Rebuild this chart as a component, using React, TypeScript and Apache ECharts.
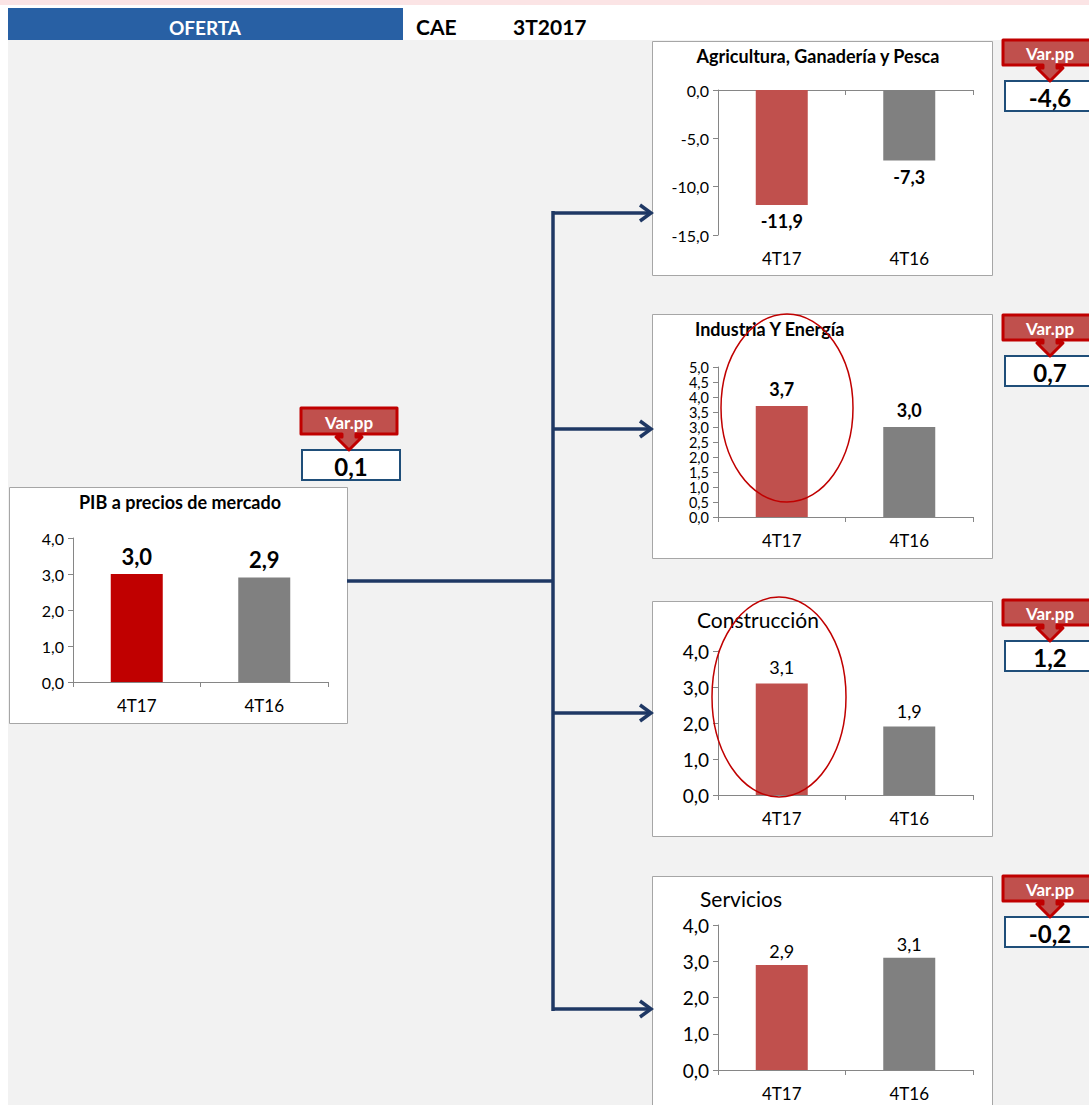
import React, { useEffect, useRef } from 'react';
import * as echarts from 'echarts';

const categories = ['4T17', '4T16'];
const pibValues = [3.0, 2.9];
const agriValues = [-11.9, -7.3];
const indValues = [3.7, 3.0];
const consValues = [3.1, 1.9];
const servValues = [2.9, 3.1];
const varPP = [0.1, -4.6, 0.7, 1.2, -0.2];
const titles = ['PIB a precios de mercado', 'Agricultura, Ganadería y Pesca', 'Industria Y Energía', 'Construcción', 'Servicios'];
const headerTexts = ['OFERTA', 'CAE', '3T2017'];

const FONT = 'Lato, "Open Sans", sans-serif';
const fmt = (v: number) => v.toFixed(1).replace('.', ',');
const AXIS = '#868686';
const RED = '#c0504d';
const GREY = '#808080';
const NAVY = '#1f3864';

const panels = [
  { values: pibValues, colors: ['#c00000', GREY], min: 0, max: 4, interval: 1, grid: { left: 73, top: 538, width: 255, height: 144 }, yFont: 16, yLH: 16, vFont: 22, vBold: true, dist: 7, neg: false },
  { values: agriValues, colors: [RED, GREY], min: -15, max: 0, interval: 5, grid: { left: 718, top: 90, width: 255, height: 145 }, yFont: 16, yLH: 16, vFont: 18, vBold: true, dist: 7, neg: true },
  { values: indValues, colors: [RED, GREY], min: 0, max: 5, interval: 0.5, grid: { left: 718, top: 367, width: 255, height: 150 }, yFont: 14.5, yLH: 13, vFont: 18, vBold: true, dist: 8, neg: false },
  { values: consValues, colors: [RED, GREY], min: 0, max: 4, interval: 1, grid: { left: 718, top: 651, width: 255, height: 144 }, yFont: 19, yLH: 19, vFont: 18, vBold: false, dist: 7, neg: false },
  { values: servValues, colors: [RED, GREY], min: 0, max: 4, interval: 1, grid: { left: 718, top: 925, width: 255, height: 145 }, yFont: 19, yLH: 19, vFont: 18, vBold: false, dist: 5, neg: false },
];

function buildOption() {
  const grid: any[] = [];
  const xAxis: any[] = [];
  const yAxis: any[] = [];
  const series: any[] = [];
  panels.forEach((p, i) => {
    grid.push({ ...p.grid });
    const labelAxisIdx = xAxis.length;
    xAxis.push({
      type: 'category', gridIndex: i, data: categories, position: 'bottom',
      axisLine: { show: !p.neg, onZero: false, lineStyle: { color: AXIS, width: 1 } },
      axisTick: { show: !p.neg, length: 5, lineStyle: { color: AXIS } },
      axisLabel: { fontSize: 17, color: '#000', margin: 15, fontFamily: FONT },
      splitLine: { show: false },
    });
    let seriesAxis = labelAxisIdx;
    if (p.neg) {
      seriesAxis = xAxis.length;
      xAxis.push({
        type: 'category', gridIndex: i, data: categories, position: 'top',
        axisLine: { show: true, onZero: false, lineStyle: { color: AXIS, width: 1 } },
        axisTick: { show: true, inside: true, length: 5, lineStyle: { color: AXIS } },
        axisLabel: { show: false },
        splitLine: { show: false },
      });
    }
    yAxis.push({
      type: 'value', gridIndex: i, min: p.min, max: p.max, interval: p.interval,
      axisLine: { show: true, lineStyle: { color: AXIS, width: 1 } },
      axisTick: { show: true, length: 5, lineStyle: { color: AXIS } },
      splitLine: { show: false },
      axisLabel: { formatter: (v: number) => fmt(v), fontSize: p.yFont, lineHeight: p.yLH, color: '#000', margin: 9, fontFamily: FONT },
    });
    series.push({
      type: 'bar', xAxisIndex: seriesAxis, yAxisIndex: i, barWidth: 52,
      data: p.values.map((v, j) => ({ value: v, itemStyle: { color: p.colors[j] } })),
      label: {
        show: true, position: p.neg ? 'bottom' : 'top', distance: p.dist,
        formatter: (prm: any) => fmt(prm.value), fontSize: p.vFont,
        fontWeight: p.vBold ? 'bold' : 'normal', color: '#000', fontFamily: FONT,
      },
    });
  });

  const g: any[] = [];
  // backgrounds
  g.push({ type: 'rect', z: -5, shape: { x: 0, y: 0, width: 1089, height: 1105 }, style: { fill: '#ffffff' } });
  g.push({ type: 'rect', z: -5, shape: { x: 0, y: 0, width: 1089, height: 5 }, style: { fill: '#fbe4e5' } });
  g.push({ type: 'rect', z: -5, shape: { x: 8, y: 40, width: 1081, height: 1065 }, style: { fill: '#f2f2f2' } });
  g.push({ type: 'rect', z: -5, shape: { x: 8, y: 8, width: 395, height: 32 }, style: { fill: '#2860a4' } });
  g.push({ type: 'text', z: 10, style: { x: 205, y: 27, text: headerTexts[0], fill: '#fff', font: `bold 19px ${FONT}`, align: 'center', verticalAlign: 'middle' } });
  g.push({ type: 'text', z: 10, style: { x: 416, y: 26, text: headerTexts[1], fill: '#000', font: `bold 21px ${FONT}`, align: 'left', verticalAlign: 'middle' } });
  g.push({ type: 'text', z: 10, style: { x: 513, y: 26, text: headerTexts[2], fill: '#000', font: `bold 21px ${FONT}`, align: 'left', verticalAlign: 'middle' } });

  // panel boxes
  const boxes = [
    [9, 487, 338, 236], [652, 41, 340, 234], [652, 314, 340, 244], [652, 601, 340, 235], [652, 876, 340, 240],
  ];
  boxes.forEach((b) => g.push({ type: 'rect', z: -4, shape: { x: b[0] + 0.5, y: b[1] + 0.5, width: b[2], height: b[3] }, style: { fill: '#fff', stroke: '#a6a6a6', lineWidth: 1 } }));

  // titles
  g.push({ type: 'text', z: 10, style: { x: 180, y: 502, text: titles[0], fill: '#000', font: `bold 18px ${FONT}`, align: 'center', verticalAlign: 'middle' } });
  g.push({ type: 'text', z: 10, style: { x: 818, y: 56, text: titles[1], fill: '#000', font: `bold 18px ${FONT}`, align: 'center', verticalAlign: 'middle' } });
  g.push({ type: 'text', z: 10, style: { x: 695, y: 329, text: titles[2], fill: '#000', font: `bold 18px ${FONT}`, align: 'left', verticalAlign: 'middle' } });
  g.push({ type: 'text', z: 10, style: { x: 697, y: 619, text: titles[3], fill: '#000', font: `21px ${FONT}`, align: 'left', verticalAlign: 'middle' } });
  g.push({ type: 'text', z: 10, style: { x: 700, y: 898, text: titles[4], fill: '#000', font: `21px ${FONT}`, align: 'left', verticalAlign: 'middle' } });

  // ellipses
  g.push({ type: 'ellipse', z: 20, shape: { cx: 787, cy: 408, rx: 66, ry: 94 }, style: { fill: 'none', stroke: '#c00000', lineWidth: 1.5 } });
  g.push({ type: 'ellipse', z: 20, shape: { cx: 779, cy: 697, rx: 67, ry: 100 }, style: { fill: 'none', stroke: '#c00000', lineWidth: 1.5 } });

  // connectors
  const ln = { stroke: NAVY, lineWidth: 3.5 };
  g.push({ type: 'polyline', z: 5, shape: { points: [[347, 581], [553, 581]] }, style: { ...ln, fill: 'none' } });
  g.push({ type: 'polyline', z: 5, shape: { points: [[553, 211], [553, 1011]] }, style: { ...ln, fill: 'none' } });
  [213, 429, 713, 1009].forEach((y) => {
    g.push({ type: 'polyline', z: 5, shape: { points: [[553, y], [650, y]] }, style: { ...ln, fill: 'none' } });
    g.push({ type: 'polyline', z: 5, shape: { points: [[640, y - 8], [651, y], [640, y + 8]] }, style: { ...ln, fill: 'none', lineJoin: 'miter' } });
  });

  // Var.pp callouts
  const callouts = [
    { cx: 349, x0: 301, x1: 397, y0: 408, y1: 434, bx0: 302, bx1: 400 },
    { cx: 1050, x0: 1003, x1: 1100, y0: 40, y1: 65, bx0: 1005, bx1: 1100 },
    { cx: 1050, x0: 1003, x1: 1100, y0: 315, y1: 340, bx0: 1005, bx1: 1100 },
    { cx: 1050, x0: 1003, x1: 1100, y0: 600, y1: 625, bx0: 1005, bx1: 1100 },
    { cx: 1050, x0: 1003, x1: 1100, y0: 876, y1: 901, bx0: 1005, bx1: 1100 },
  ];
  callouts.forEach((c, i) => {
    const tip = c.y1 + 16;
    g.push({ type: 'rect', z: 12, shape: { x: c.bx0, y: tip, width: c.bx1 - c.bx0, height: 30 }, style: { fill: '#fff', stroke: '#1f4e79', lineWidth: 2 } });
    g.push({ type: 'text', z: 13, style: { x: c.cx + (i === 0 ? 2 : 0), y: tip + 16, text: fmt(varPP[i]), fill: '#000', font: `bold 24px ${FONT}`, align: 'center', verticalAlign: 'middle' } });
    const pts = [
      [c.x0, c.y0], [c.x1, c.y0], [c.x1, c.y1], [c.cx + 7, c.y1], [c.cx + 7, c.y1 + 3], [c.cx + 13, c.y1 + 3],
      [c.cx, tip], [c.cx - 13, c.y1 + 3], [c.cx - 7, c.y1 + 3], [c.cx - 7, c.y1], [c.x0, c.y1],
    ];
    g.push({ type: 'polygon', z: 14, shape: { points: pts }, style: { fill: RED, stroke: '#c00000', lineWidth: 3, lineJoin: 'round' } });
    g.push({ type: 'text', z: 15, style: { x: c.cx, y: (c.y0 + c.y1) / 2 + 1, text: 'Var.pp', fill: '#fff', font: `bold 17px ${FONT}`, align: 'center', verticalAlign: 'middle' } });
  });

  return { animation: false, backgroundColor: '#ffffff', textStyle: { fontFamily: FONT }, grid, xAxis, yAxis, series, graphic: { elements: g } };
}

export default function App() {
  const ref = useRef<HTMLDivElement>(null);
  useEffect(() => {
    const chart = echarts.init(ref.current!, null, { renderer: 'svg', width: 1089, height: 1105 });
    chart.setOption(buildOption() as any);
    return () => chart.dispose();
  }, []);
  return <div ref={ref} style={{ position: 'absolute', left: 0, top: 0, width: 1089, height: 1105 }} />;
}
